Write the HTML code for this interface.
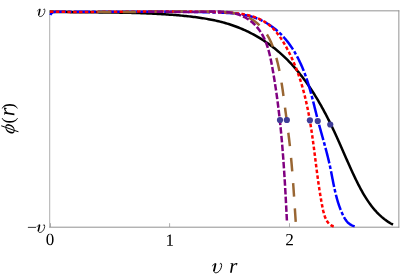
<!DOCTYPE html>
<html><head><meta charset="utf-8"><style>
html,body{margin:0;padding:0;background:#fff;}
body{width:400px;height:277px;overflow:hidden;position:relative;font-family:"Liberation Serif",serif;}
svg{position:absolute;left:0;top:0;display:block;}
text{font-family:"Liberation Serif",serif;fill:#000;}
</style></head><body>
<svg width="400" height="277" viewBox="0 0 400 277">
<rect x="0" y="0" width="400" height="277" fill="#fff"/>
<g fill="none" stroke="#8c8c8c" stroke-width="0.7">
<path d="M49.7,10.4V227.6" stroke-width="0.7"/>
<path d="M49.35,10.83H399.3 M49.35,227.2H399.3 M398.85,10.4V227.6" stroke-width="0.95"/>
<path d="M50.5,227V223.2 M169.6,227V223.2 M289.5,227V223.2"/>
</g>
<g fill="none" stroke-linecap="butt" stroke-linejoin="round">

<path d="M49.80,11.80 L51.30,11.83 L52.79,11.87 L54.29,11.90 L55.79,11.92 L57.28,11.95 L58.78,11.98 L60.27,12.00 L61.77,12.03 L63.27,12.05 L64.76,12.07 L66.26,12.09 L67.75,12.11 L69.25,12.12 L70.75,12.14 L72.24,12.16 L73.74,12.17 L75.24,12.19 L76.73,12.20 L78.23,12.21 L79.72,12.23 L81.22,12.24 L82.72,12.25 L84.21,12.26 L85.71,12.27 L87.20,12.29 L88.70,12.30 L90.20,12.31 L91.69,12.32 L93.19,12.33 L94.68,12.34 L96.18,12.35 L97.68,12.37 L99.17,12.38 L100.67,12.39 L102.16,12.41 L103.66,12.42 L105.16,12.43 L106.65,12.45 L108.15,12.47 L109.65,12.48 L111.14,12.50 L112.64,12.52 L114.14,12.54 L115.63,12.56 L117.13,12.58 L118.62,12.61 L120.12,12.63 L121.62,12.66 L123.11,12.69 L124.61,12.72 L126.11,12.75 L127.60,12.78 L129.10,12.81 L130.60,12.85 L132.10,12.89 L133.59,12.93 L135.09,12.97 L136.59,13.01 L138.08,13.06 L139.58,13.11 L141.08,13.16 L142.57,13.21 L144.07,13.27 L145.57,13.32 L147.07,13.38 L148.56,13.45 L150.06,13.51 L151.56,13.58 L153.06,13.65 L154.56,13.72 L156.05,13.80 L157.55,13.88 L159.05,13.96 L160.55,14.05 L162.05,14.14 L163.54,14.23 L165.04,14.33 L166.54,14.43 L168.04,14.53 L169.54,14.64 L171.04,14.74 L172.54,14.86 L174.04,14.98 L175.53,15.10 L177.03,15.22 L178.53,15.35 L180.03,15.48 L181.53,15.62 L183.03,15.76 L184.53,15.91 L186.03,16.06 L187.53,16.22 L189.03,16.38 L190.52,16.55 L192.02,16.72 L193.51,16.90 L195.01,17.09 L196.50,17.28 L197.99,17.49 L199.48,17.70 L200.97,17.92 L202.45,18.14 L203.94,18.38 L205.42,18.63 L206.90,18.88 L208.37,19.15 L209.85,19.42 L211.32,19.71 L212.78,20.00 L214.25,20.31 L215.71,20.63 L217.17,20.96 L218.62,21.30 L220.07,21.66 L221.52,22.02 L222.96,22.40 L224.40,22.80 L225.83,23.20 L227.26,23.63 L228.69,24.06 L230.11,24.51 L231.52,24.98 L232.93,25.46 L234.34,25.95 L235.74,26.46 L237.13,26.99 L238.52,27.53 L239.90,28.09 L241.28,28.66 L242.65,29.25 L244.01,29.85 L245.37,30.46 L246.72,31.09 L248.07,31.74 L249.41,32.39 L250.74,33.07 L252.06,33.75 L253.38,34.45 L254.69,35.17 L255.99,35.89 L257.28,36.64 L258.57,37.39 L259.85,38.16 L261.12,38.94 L262.38,39.73 L263.63,40.54 L264.88,41.36 L266.11,42.19 L267.34,43.03 L268.56,43.89 L269.77,44.76 L270.97,45.64 L272.16,46.53 L273.34,47.44 L274.51,48.35 L275.67,49.28 L276.82,50.22 L277.96,51.17 L279.09,52.14 L280.21,53.11 L281.32,54.09 L282.42,55.09 L283.50,56.10 L284.58,57.11 L285.65,58.14 L286.71,59.18 L287.76,60.22 L288.80,61.28 L289.83,62.35 L290.85,63.43 L291.86,64.51 L292.86,65.61 L293.85,66.71 L294.83,67.83 L295.80,68.95 L296.77,70.08 L297.72,71.22 L298.67,72.37 L299.61,73.52 L300.53,74.69 L301.45,75.86 L302.37,77.04 L303.27,78.23 L304.16,79.42 L305.05,80.63 L305.93,81.84 L306.80,83.05 L307.66,84.28 L308.52,85.51 L309.37,86.74 L310.21,87.99 L311.04,89.24 L311.86,90.49 L312.68,91.75 L313.49,93.02 L314.30,94.29 L315.09,95.57 L315.88,96.85 L316.66,98.14 L317.44,99.44 L318.21,100.73 L318.97,102.04 L319.73,103.35 L320.48,104.66 L321.22,105.97 L321.96,107.29 L322.69,108.62 L323.41,109.95 L324.13,111.28 L324.84,112.61 L325.55,113.95 L326.25,115.29 L326.95,116.64 L327.64,117.98 L328.32,119.33 L329.00,120.68 L329.68,122.04 L330.35,123.40 L331.01,124.75 L331.67,126.12 L332.33,127.48 L332.98,128.84 L333.62,130.21 L334.26,131.57 L334.90,132.94 L335.53,134.31 L336.16,135.68 L336.79,137.05 L337.41,138.42 L338.02,139.79 L338.64,141.16 L339.25,142.54 L339.86,143.91 L340.46,145.28 L341.07,146.65 L341.67,148.03 L342.27,149.40 L342.87,150.77 L343.47,152.15 L344.07,153.52 L344.67,154.89 L345.27,156.26 L345.87,157.63 L346.47,159.00 L347.08,160.37 L347.68,161.74 L348.29,163.11 L348.90,164.48 L349.51,165.85 L350.12,167.21 L350.74,168.58 L351.36,169.94 L351.98,171.30 L352.61,172.66 L353.25,174.02 L353.89,175.38 L354.53,176.74 L355.18,178.09 L355.83,179.44 L356.49,180.80 L357.16,182.14 L357.83,183.49 L358.52,184.83 L359.21,186.17 L359.91,187.51 L360.61,188.83 L361.33,190.16 L362.06,191.47 L362.80,192.78 L363.55,194.07 L364.31,195.36 L365.09,196.64 L365.88,197.91 L366.68,199.17 L367.50,200.41 L368.34,201.64 L369.19,202.86 L370.05,204.06 L370.93,205.25 L371.83,206.42 L372.75,207.58 L373.69,208.71 L374.64,209.83 L375.62,210.93 L376.61,212.02 L377.63,213.08 L378.66,214.12 L379.72,215.14 L380.81,216.13 L381.91,217.11 L383.04,218.06 L384.19,218.98 L385.37,219.88 L386.58,220.75 L387.80,221.60 L389.06,222.42 L390.34,223.21 L391.66,223.97 L393.00,224.70" stroke="#000" stroke-width="2.5"/>
<path d="M50.40,15.00 L50.66,14.46 L50.97,13.96 L51.31,13.50 L51.69,13.11 L52.13,12.72 L52.63,12.35 L53.15,12.09 L53.67,11.98 L54.19,11.93 L54.73,11.88 L55.27,11.84 L55.82,11.81 L56.39,11.78 L56.96,11.75 L57.54,11.73 L58.14,11.72 L58.75,11.71 L59.37,11.70 L60.00,11.70" stroke="#0000ff" stroke-width="2.5"/>
<path d="M60.00,11.70 L61.47,11.72 L62.94,11.73 L64.41,11.75 L65.88,11.76 L67.35,11.77 L68.82,11.78 L70.29,11.80 L71.76,11.81 L73.23,11.81 L74.69,11.82 L76.16,11.83 L77.62,11.84 L79.09,11.84 L80.55,11.85 L82.01,11.85 L83.47,11.86 L84.94,11.86 L86.40,11.86 L87.86,11.86 L89.32,11.87 L90.78,11.87 L92.24,11.87 L93.70,11.87 L95.16,11.87 L96.62,11.86 L98.07,11.86 L99.53,11.86 L100.99,11.86 L102.45,11.85 L103.90,11.85 L105.36,11.85 L106.81,11.84 L108.27,11.84 L109.73,11.84 L111.18,11.83 L112.64,11.83 L114.09,11.82 L115.54,11.82 L117.00,11.81 L118.45,11.80 L119.91,11.80 L121.36,11.79 L122.81,11.79 L124.27,11.78 L125.72,11.78 L127.18,11.77 L128.63,11.76 L130.08,11.76 L131.54,11.75 L132.99,11.75 L134.44,11.74 L135.90,11.74 L137.35,11.73 L138.80,11.73 L140.26,11.73 L141.71,11.72 L143.16,11.72 L144.62,11.71 L146.07,11.71 L147.53,11.71 L148.98,11.71 L150.43,11.71 L151.89,11.70 L153.34,11.70 L154.80,11.70 L156.25,11.70 L157.71,11.70 L159.17,11.71 L160.62,11.71 L162.08,11.71 L163.53,11.71 L164.99,11.72 L166.45,11.72 L167.91,11.73 L169.37,11.73 L170.82,11.74 L172.28,11.75 L173.74,11.76 L175.20,11.76 L176.66,11.77 L178.12,11.79 L179.58,11.80 L181.05,11.81 L182.51,11.82 L183.97,11.84 L185.44,11.85 L186.90,11.87 L188.36,11.89 L189.83,11.91 L191.30,11.93 L192.76,11.95 L194.23,11.97 L195.70,11.99 L197.16,12.02 L198.63,12.05 L200.10,12.07 L201.57,12.10 L203.05,12.13 L204.52,12.16 L205.99,12.19 L207.46,12.23 L208.94,12.26 L210.41,12.30 L211.89,12.34 L213.37,12.38 L214.85,12.42 L216.32,12.46 L217.80,12.51 L219.28,12.55 L220.76,12.61 L222.24,12.66 L223.72,12.73 L225.19,12.80 L226.67,12.88 L228.14,12.97 L229.61,13.07 L231.08,13.18 L232.54,13.30 L234.00,13.44 L235.45,13.59 L236.90,13.76 L238.35,13.94 L239.79,14.14 L241.22,14.36 L242.65,14.60 L244.07,14.86 L245.49,15.14 L246.89,15.44 L248.29,15.76 L249.68,16.11 L251.07,16.49 L252.44,16.89 L253.80,17.32 L255.16,17.77 L256.50,18.26 L257.83,18.78 L259.16,19.32 L260.47,19.90 L261.77,20.51 L263.05,21.15 L264.33,21.82 L265.59,22.51 L266.84,23.24 L268.07,23.99 L269.29,24.77 L270.49,25.58 L271.69,26.41 L272.86,27.27 L274.02,28.15 L275.16,29.06 L276.29,29.99 L277.40,30.94 L278.49,31.92 L279.56,32.92 L280.62,33.94 L281.66,34.98 L282.68,36.04 L283.68,37.13 L284.66,38.23 L285.62,39.35 L286.56,40.49 L287.48,41.65 L288.39,42.82 L289.27,44.01 L290.14,45.22 L290.99,46.44 L291.82,47.67 L292.64,48.91 L293.43,50.17 L294.21,51.44 L294.97,52.72 L295.72,54.01 L296.45,55.31 L297.16,56.62 L297.85,57.94 L298.53,59.26 L299.19,60.59 L299.84,61.93 L300.47,63.27 L301.08,64.62 L301.68,65.97 L302.27,67.32 L302.84,68.67 L303.39,70.03 L303.93,71.39 L304.45,72.75 L304.97,74.11 L305.47,75.47 L305.95,76.83 L306.43,78.20 L306.89,79.57 L307.34,80.93 L307.79,82.30 L308.22,83.67 L308.64,85.05 L309.06,86.42 L309.47,87.79 L309.87,89.17 L310.26,90.55 L310.64,91.93 L311.02,93.31 L311.40,94.69 L311.77,96.07 L312.13,97.46 L312.49,98.85 L312.85,100.23 L313.20,101.62 L313.56,103.01 L313.91,104.40 L314.26,105.80 L314.60,107.19 L314.95,108.59 L315.30,109.98 L315.65,111.38 L316.00,112.78 L316.35,114.18 L316.70,115.58 L317.06,116.98 L317.42,118.39 L317.78,119.79 L318.15,121.20 L318.53,122.61 L318.90,124.02 L319.28,125.43 L319.67,126.84 L320.06,128.25 L320.45,129.67 L320.84,131.08 L321.23,132.50 L321.63,133.92 L322.02,135.34 L322.42,136.76 L322.81,138.18 L323.21,139.60 L323.61,141.02 L324.00,142.45 L324.39,143.87 L324.78,145.30 L325.17,146.73 L325.55,148.16 L325.93,149.59 L326.31,151.02 L326.69,152.45 L327.05,153.89 L327.42,155.32 L327.78,156.76 L328.13,158.19 L328.48,159.63 L328.82,161.07 L329.15,162.51 L329.47,163.95 L329.79,165.39 L330.10,166.84 L330.40,168.28 L330.70,169.72 L330.99,171.17 L331.28,172.61 L331.56,174.06 L331.85,175.50 L332.13,176.94 L332.41,178.39 L332.69,179.83 L332.97,181.27 L333.26,182.71 L333.55,184.14 L333.84,185.57 L334.14,187.01 L334.45,188.43 L334.76,189.86 L335.09,191.28 L335.42,192.70 L335.76,194.12 L336.11,195.53 L336.48,196.94 L336.86,198.34 L337.25,199.74 L337.66,201.13 L338.09,202.52 L338.53,203.90 L338.99,205.28 L339.47,206.65 L339.97,208.02 L340.49,209.38 L341.03,210.73 L341.60,212.07 L342.19,213.41 L342.80,214.74 L343.44,216.06 L344.13,217.35 L344.85,218.60 L345.64,219.81 L346.48,220.95 L347.39,222.02 L348.37,223.01 L349.44,223.90 L350.60,224.69 L351.85,225.36 L353.22,225.91 L354.69,226.31" stroke="#0000ff" stroke-width="2.5" stroke-dasharray="16 2.2 3.6 2.2" stroke-dashoffset="10"/>
<path d="M50.00,11.70 L51.50,11.72 L53.00,11.74 L54.49,11.76 L55.99,11.78 L57.48,11.79 L58.98,11.81 L60.47,11.82 L61.96,11.84 L63.45,11.85 L64.93,11.86 L66.42,11.87 L67.91,11.88 L69.39,11.89 L70.87,11.89 L72.35,11.90 L73.84,11.90 L75.32,11.91 L76.79,11.91 L78.27,11.91 L79.75,11.92 L81.22,11.92 L82.70,11.92 L84.17,11.92 L85.65,11.91 L87.12,11.91 L88.59,11.91 L90.06,11.91 L91.53,11.90 L93.00,11.90 L94.47,11.89 L95.94,11.89 L97.40,11.88 L98.87,11.87 L100.34,11.87 L101.80,11.86 L103.27,11.85 L104.73,11.84 L106.20,11.84 L107.66,11.83 L109.12,11.82 L110.59,11.81 L112.05,11.80 L113.51,11.79 L114.97,11.78 L116.44,11.77 L117.90,11.76 L119.36,11.75 L120.82,11.74 L122.28,11.72 L123.74,11.71 L125.20,11.70 L126.67,11.69 L128.13,11.68 L129.59,11.67 L131.05,11.66 L132.51,11.65 L133.97,11.64 L135.43,11.63 L136.89,11.62 L138.36,11.61 L139.82,11.60 L141.28,11.59 L142.74,11.58 L144.21,11.57 L145.67,11.57 L147.13,11.56 L148.60,11.55 L150.06,11.54 L151.53,11.54 L152.99,11.53 L154.46,11.52 L155.92,11.52 L157.39,11.51 L158.86,11.51 L160.33,11.51 L161.79,11.50 L163.26,11.50 L164.73,11.50 L166.20,11.50 L167.68,11.50 L169.15,11.50 L170.62,11.50 L172.10,11.51 L173.57,11.51 L175.05,11.51 L176.52,11.52 L178.00,11.52 L179.48,11.53 L180.96,11.54 L182.44,11.55 L183.92,11.56 L185.41,11.57 L186.89,11.58 L188.38,11.59 L189.86,11.61 L191.35,11.62 L192.84,11.64 L194.33,11.66 L195.82,11.68 L197.32,11.70 L198.81,11.72 L200.31,11.74 L201.80,11.76 L203.30,11.79 L204.80,11.82 L206.30,11.85 L207.81,11.87 L209.31,11.91 L210.82,11.94 L212.33,11.97 L213.84,12.01 L215.35,12.05 L216.86,12.08 L218.38,12.13 L219.89,12.17 L221.40,12.22 L222.92,12.28 L224.43,12.34 L225.94,12.41 L227.45,12.49 L228.95,12.58 L230.45,12.69 L231.95,12.80 L233.44,12.93 L234.92,13.07 L236.40,13.23 L237.87,13.40 L239.33,13.59 L240.79,13.80 L242.23,14.03 L243.67,14.28 L245.10,14.55 L246.51,14.84 L247.91,15.16 L249.31,15.50 L250.69,15.87 L252.05,16.27 L253.41,16.69 L254.74,17.14 L256.07,17.63 L257.37,18.14 L258.66,18.69 L259.94,19.27 L261.19,19.88 L262.43,20.53 L263.65,21.21 L264.85,21.94 L266.03,22.70 L267.19,23.50 L268.33,24.34 L269.44,25.22 L270.53,26.15 L271.60,27.12 L272.65,28.13 L273.68,29.17 L274.68,30.25 L275.66,31.37 L276.62,32.52 L277.57,33.69 L278.49,34.90 L279.39,36.12 L280.27,37.37 L281.13,38.64 L281.98,39.93 L282.80,41.23 L283.61,42.55 L284.40,43.87 L285.17,45.21 L285.93,46.55 L286.67,47.89 L287.39,49.24 L288.10,50.58 L288.79,51.93 L289.47,53.27 L290.13,54.61 L290.78,55.95 L291.41,57.29 L292.04,58.63 L292.65,59.97 L293.24,61.31 L293.82,62.66 L294.40,64.00 L294.96,65.36 L295.51,66.71 L296.04,68.07 L296.57,69.43 L297.09,70.80 L297.60,72.17 L298.09,73.55 L298.58,74.93 L299.06,76.31 L299.52,77.70 L299.98,79.09 L300.43,80.48 L300.87,81.88 L301.30,83.28 L301.72,84.69 L302.14,86.10 L302.54,87.51 L302.94,88.93 L303.32,90.34 L303.70,91.77 L304.08,93.19 L304.44,94.62 L304.80,96.04 L305.15,97.48 L305.49,98.91 L305.83,100.35 L306.15,101.79 L306.48,103.23 L306.79,104.67 L307.10,106.11 L307.40,107.56 L307.70,109.01 L307.99,110.46 L308.27,111.91 L308.55,113.37 L308.83,114.82 L309.09,116.28 L309.36,117.73 L309.61,119.19 L309.87,120.65 L310.12,122.11 L310.36,123.57 L310.60,125.04 L310.83,126.50 L311.06,127.96 L311.29,129.42 L311.52,130.89 L311.74,132.35 L311.95,133.82 L312.17,135.28 L312.38,136.75 L312.58,138.21 L312.79,139.67 L312.99,141.14 L313.19,142.60 L313.39,144.07 L313.58,145.53 L313.77,146.99 L313.96,148.45 L314.15,149.91 L314.34,151.37 L314.53,152.83 L314.71,154.28 L314.90,155.74 L315.08,157.19 L315.26,158.65 L315.45,160.10 L315.63,161.55 L315.81,163.00 L315.99,164.44 L316.17,165.89 L316.36,167.33 L316.54,168.77 L316.72,170.21 L316.91,171.65 L317.09,173.09 L317.28,174.53 L317.47,175.98 L317.66,177.42 L317.86,178.87 L318.06,180.31 L318.26,181.77 L318.47,183.22 L318.67,184.68 L318.89,186.14 L319.11,187.61 L319.33,189.08 L319.56,190.56 L319.79,192.04 L320.03,193.53 L320.27,195.03 L320.53,196.54 L320.78,198.05 L321.05,199.57 L321.32,201.10 L321.60,202.64 L321.89,204.19 L322.18,205.75 L322.49,207.32 L322.81,208.89 L323.14,210.45 L323.51,212.00 L323.90,213.52 L324.33,215.00 L324.81,216.44 L325.33,217.83 L325.91,219.15 L326.55,220.39 L327.25,221.55 L328.03,222.62 L328.89,223.59 L329.83,224.45 L330.86,225.18 L331.98,225.78 L333.21,226.24 L334.54,226.56 L335.99,226.71" stroke="#ff0000" stroke-width="2.5" stroke-dasharray="3.5 2.3"/>
<path d="M92.60,11.70 L93.84,11.73 L95.09,11.75 L96.33,11.78 L97.57,11.80 L98.82,11.82 L100.06,11.84 L101.31,11.86 L102.55,11.87 L103.80,11.89 L105.04,11.90 L106.29,11.91 L107.54,11.92 L108.78,11.93 L110.03,11.94 L111.28,11.95 L112.52,11.96 L113.77,11.96 L115.02,11.97 L116.27,11.97 L117.52,11.97 L118.77,11.97 L120.02,11.97 L121.27,11.97 L122.52,11.97 L123.77,11.97 L125.02,11.97 L126.27,11.96 L127.52,11.96 L128.77,11.95 L130.02,11.95 L131.27,11.94 L132.52,11.93 L133.78,11.92 L135.03,11.92 L136.28,11.91 L137.54,11.90 L138.79,11.89 L140.04,11.88 L141.30,11.87 L142.55,11.86 L143.81,11.85 L145.06,11.83 L146.32,11.82 L147.57,11.81 L148.83,11.80 L150.08,11.79 L151.34,11.78 L152.59,11.76 L153.85,11.75 L155.11,11.74 L156.36,11.73 L157.62,11.72 L158.88,11.70 L160.14,11.69 L161.39,11.68 L162.65,11.67 L163.91,11.66 L165.17,11.65 L166.43,11.64 L167.69,11.63 L168.95,11.62 L170.21,11.61 L171.47,11.60 L172.73,11.60 L173.99,11.59 L175.25,11.58 L176.51,11.58 L177.77,11.57 L179.03,11.57 L180.29,11.56 L181.55,11.56 L182.81,11.56 L184.08,11.55 L185.34,11.55 L186.60,11.55 L187.86,11.56 L189.12,11.56 L190.39,11.56 L191.65,11.56 L192.91,11.57 L194.18,11.58 L195.44,11.58 L196.70,11.59 L197.97,11.60 L199.23,11.61 L200.50,11.62 L201.76,11.64 L203.03,11.65 L204.29,11.67 L205.56,11.69 L206.82,11.71 L208.09,11.73 L209.35,11.75 L210.62,11.77 L211.88,11.80 L213.15,11.82 L214.42,11.85 L215.68,11.88 L216.95,11.92 L218.21,11.95 L219.48,11.99 L220.74,12.04 L222.00,12.09 L223.26,12.15 L224.52,12.22 L225.77,12.30 L227.02,12.39 L228.26,12.50 L229.50,12.62 L230.73,12.75 L231.95,12.90 L233.17,13.07 L234.38,13.26 L235.59,13.47 L236.78,13.70 L237.97,13.95 L239.14,14.23 L240.31,14.53 L241.47,14.86 L242.61,15.21 L243.74,15.59 L244.86,16.01 L245.97,16.45 L247.07,16.93 L248.15,17.43 L249.21,17.97 L250.27,18.53 L251.30,19.13 L252.32,19.75 L253.33,20.40 L254.31,21.08 L255.28,21.78 L256.23,22.51 L257.17,23.26 L258.08,24.05 L258.98,24.85 L259.85,25.68 L260.70,26.54 L261.53,27.42 L262.35,28.32 L263.13,29.24 L263.90,30.19 L264.64,31.16 L265.36,32.15 L266.05,33.16 L266.72,34.19 L267.37,35.24 L268.00,36.31 L268.61,37.39 L269.19,38.49 L269.76,39.61 L270.31,40.74 L270.83,41.88 L271.34,43.04 L271.84,44.21 L272.31,45.39 L272.77,46.58 L273.21,47.78 L273.64,48.99 L274.06,50.20 L274.46,51.42 L274.85,52.65 L275.22,53.88 L275.59,55.12 L275.94,56.36 L276.28,57.60 L276.62,58.84 L276.94,60.09 L277.25,61.33 L277.56,62.57 L277.86,63.82 L278.15,65.06 L278.43,66.30 L278.70,67.54 L278.97,68.79 L279.23,70.03 L279.48,71.27 L279.73,72.51 L279.97,73.75 L280.21,75.00 L280.44,76.24 L280.66,77.48 L280.88,78.72 L281.09,79.96 L281.30,81.20 L281.50,82.45 L281.70,83.69 L281.89,84.93 L282.08,86.17 L282.27,87.41 L282.45,88.65 L282.64,89.89 L282.81,91.13 L282.99,92.37 L283.16,93.61 L283.33,94.85 L283.50,96.09 L283.67,97.33 L283.83,98.57 L284.00,99.81 L284.16,101.06 L284.32,102.30 L284.49,103.54 L284.65,104.78 L284.81,106.02 L284.97,107.26 L285.14,108.50 L285.30,109.74 L285.46,110.98 L285.63,112.22 L285.79,113.46 L285.96,114.70 L286.12,115.94 L286.29,117.18 L286.45,118.42 L286.62,119.66 L286.78,120.90 L286.95,122.14 L287.11,123.38 L287.28,124.62 L287.44,125.86 L287.60,127.10 L287.76,128.34 L287.92,129.58 L288.08,130.82 L288.23,132.06 L288.39,133.30 L288.54,134.54 L288.69,135.78 L288.84,137.02 L288.99,138.26 L289.14,139.50 L289.28,140.75 L289.42,141.99 L289.56,143.23 L289.70,144.47 L289.84,145.71 L289.97,146.95 L290.10,148.19 L290.23,149.43 L290.36,150.68 L290.48,151.92 L290.61,153.16 L290.73,154.40 L290.85,155.64 L290.97,156.89 L291.09,158.13 L291.20,159.37 L291.31,160.61 L291.43,161.86 L291.54,163.10 L291.65,164.34 L291.75,165.59 L291.86,166.83 L291.96,168.07 L292.07,169.32 L292.17,170.56 L292.27,171.81 L292.37,173.05 L292.47,174.29 L292.57,175.54 L292.66,176.78 L292.76,178.03 L292.85,179.27 L292.94,180.52 L293.04,181.76 L293.13,183.01 L293.22,184.26 L293.31,185.50 L293.40,186.75 L293.48,187.99 L293.57,189.24 L293.66,190.49 L293.74,191.74 L293.83,192.98 L293.91,194.23 L294.00,195.48 L294.08,196.73 L294.16,197.98 L294.25,199.22 L294.33,200.47 L294.41,201.72 L294.49,202.97 L294.58,204.22 L294.66,205.47 L294.74,206.72 L294.82,207.97 L294.90,209.22 L294.98,210.47 L295.06,211.73 L295.14,212.98 L295.23,214.23 L295.31,215.48 L295.39,216.73 L295.47,217.99 L295.55,219.24 L295.63,220.49 L295.72,221.75 L295.80,223.00" stroke="#996633" stroke-width="2.5" stroke-dasharray="13.5 11.8" stroke-dashoffset="-4.9"/>
<path d="M148.00,11.70 L149.03,11.70 L150.06,11.69 L151.10,11.69 L152.13,11.69 L153.16,11.70 L154.18,11.70 L155.21,11.71 L156.24,11.71 L157.27,11.72 L158.30,11.73 L159.32,11.74 L160.35,11.75 L161.38,11.76 L162.40,11.78 L163.43,11.79 L164.46,11.80 L165.48,11.82 L166.51,11.83 L167.54,11.85 L168.57,11.86 L169.60,11.88 L170.63,11.89 L171.66,11.91 L172.69,11.92 L173.72,11.94 L174.75,11.95 L175.78,11.96 L176.82,11.97 L177.85,11.99 L178.89,12.00 L179.93,12.01 L180.97,12.02 L182.01,12.02 L183.05,12.03 L184.09,12.03 L185.14,12.04 L186.18,12.04 L187.23,12.04 L188.28,12.04 L189.33,12.04 L190.39,12.03 L191.44,12.02 L192.50,12.01 L193.56,12.00 L194.62,11.99 L195.69,11.97 L196.75,11.95 L197.82,11.93 L198.90,11.91 L199.97,11.88 L201.05,11.85 L202.13,11.82 L203.21,11.78 L204.29,11.75 L205.38,11.71 L206.46,11.68 L207.55,11.65 L208.63,11.61 L209.72,11.59 L210.81,11.56 L211.89,11.54 L212.98,11.52 L214.06,11.51 L215.14,11.51 L216.22,11.51 L217.30,11.52 L218.37,11.54 L219.44,11.56 L220.51,11.60 L221.57,11.64 L222.63,11.70 L223.69,11.77 L224.74,11.85 L225.78,11.94 L226.83,12.05 L227.86,12.17 L228.89,12.31 L229.91,12.46 L230.93,12.63 L231.94,12.82 L232.94,13.02 L233.93,13.24 L234.92,13.49 L235.89,13.75 L236.86,14.03 L237.82,14.33 L238.77,14.65 L239.71,15.00 L240.64,15.36 L241.56,15.74 L242.47,16.14 L243.37,16.57 L244.26,17.01 L245.14,17.47 L246.01,17.96 L246.86,18.46 L247.70,18.99 L248.53,19.53 L249.35,20.10 L250.15,20.68 L250.94,21.29 L251.72,21.91 L252.48,22.56 L253.23,23.22 L253.96,23.91 L254.68,24.61 L255.38,25.33 L256.07,26.08 L256.74,26.83 L257.40,27.61 L258.04,28.40 L258.66,29.20 L259.27,30.02 L259.86,30.85 L260.43,31.70 L260.99,32.55 L261.53,33.42 L262.04,34.29 L262.55,35.18 L263.03,36.08 L263.50,36.98 L263.95,37.90 L264.39,38.82 L264.81,39.76 L265.22,40.70 L265.61,41.64 L265.99,42.60 L266.36,43.56 L266.71,44.54 L267.06,45.51 L267.39,46.50 L267.71,47.49 L268.01,48.48 L268.31,49.48 L268.60,50.49 L268.88,51.50 L269.15,52.52 L269.41,53.54 L269.66,54.56 L269.90,55.59 L270.14,56.62 L270.37,57.65 L270.60,58.69 L270.82,59.73 L271.03,60.77 L271.24,61.81 L271.44,62.85 L271.64,63.90 L271.84,64.94 L272.03,65.99 L272.22,67.04 L272.41,68.08 L272.60,69.13 L272.78,70.17 L272.97,71.22 L273.15,72.26 L273.33,73.31 L273.51,74.35 L273.68,75.40 L273.86,76.44 L274.03,77.48 L274.20,78.53 L274.37,79.57 L274.54,80.61 L274.70,81.66 L274.87,82.70 L275.03,83.74 L275.19,84.78 L275.35,85.82 L275.51,86.86 L275.67,87.90 L275.82,88.94 L275.98,89.98 L276.13,91.02 L276.28,92.06 L276.43,93.10 L276.57,94.14 L276.72,95.18 L276.86,96.22 L277.01,97.26 L277.15,98.29 L277.29,99.33 L277.43,100.37 L277.56,101.41 L277.70,102.44 L277.83,103.48 L277.97,104.52 L278.10,105.55 L278.23,106.59 L278.35,107.63 L278.48,108.66 L278.61,109.70 L278.73,110.74 L278.86,111.77 L278.98,112.81 L279.10,113.84 L279.22,114.88 L279.34,115.91 L279.45,116.95 L279.57,117.98 L279.68,119.02 L279.80,120.05 L279.91,121.09 L280.02,122.12 L280.13,123.16 L280.24,124.19 L280.35,125.22 L280.45,126.26 L280.56,127.29 L280.66,128.33 L280.76,129.36 L280.87,130.39 L280.97,131.43 L281.07,132.46 L281.16,133.49 L281.26,134.53 L281.36,135.56 L281.45,136.59 L281.55,137.63 L281.64,138.66 L281.73,139.69 L281.83,140.73 L281.92,141.76 L282.01,142.79 L282.09,143.83 L282.18,144.86 L282.27,145.89 L282.36,146.93 L282.44,147.96 L282.52,148.99 L282.61,150.03 L282.69,151.06 L282.77,152.09 L282.85,153.13 L282.93,154.16 L283.01,155.19 L283.09,156.23 L283.17,157.26 L283.24,158.29 L283.32,159.33 L283.40,160.36 L283.47,161.40 L283.54,162.43 L283.62,163.46 L283.69,164.50 L283.76,165.53 L283.83,166.57 L283.90,167.60 L283.97,168.64 L284.04,169.67 L284.11,170.70 L284.18,171.74 L284.25,172.77 L284.31,173.81 L284.38,174.84 L284.44,175.88 L284.51,176.92 L284.57,177.95 L284.64,178.99 L284.70,180.02 L284.76,181.06 L284.83,182.10 L284.89,183.13 L284.95,184.17 L285.01,185.21 L285.07,186.24 L285.13,187.28 L285.19,188.32 L285.25,189.36 L285.31,190.39 L285.37,191.43 L285.43,192.47 L285.49,193.51 L285.54,194.55 L285.60,195.59 L285.66,196.62 L285.71,197.66 L285.77,198.70 L285.83,199.74 L285.88,200.78 L285.94,201.82 L285.99,202.86 L286.05,203.91 L286.10,204.95 L286.16,205.99 L286.21,207.03 L286.26,208.07 L286.32,209.12 L286.37,210.16 L286.43,211.20 L286.48,212.24 L286.53,213.29 L286.58,214.33 L286.64,215.38 L286.69,216.42 L286.74,217.47 L286.80,218.51 L286.85,219.56 L286.90,220.60" stroke="#800080" stroke-width="2.5" stroke-dasharray="6.5 2.2"/>

</g>
<circle cx="280.0" cy="120.0" r="3.1" fill="#3f3d99"/>
<circle cx="286.85" cy="120.0" r="3.1" fill="#3f3d99"/>
<circle cx="309.9" cy="120.3" r="3.1" fill="#3f3d99"/>
<circle cx="317.75" cy="121.1" r="3.1" fill="#3f3d99"/>
<circle cx="330.25" cy="124.5" r="3.1" fill="#3f3d99"/>
<g fill="#000" stroke="#fff" stroke-width="0"><g transform="translate(37.4,16.5) scale(0.78)" fill="none" stroke="#000" stroke-linecap="round" stroke-linejoin="round"><path d="M3.2,-8.9 L1.75,-2.4" stroke-width="1.9"/><path d="M1.5,-2.6 C0.9,0.7 4.5,0.9 6.9,-1.4 C8.8,-3.3 10.3,-7.1 9.3,-9.3 C9.0,-10 8.3,-10 8.1,-9.2" stroke-width="1.0"/><path d="M0.1,-7.1 C0.4,-8.3 1.5,-9.3 2.9,-9.3" stroke-width="0.8"/></g>
<path transform="translate(27.0,232.6) scale(0.00859,-0.00781)" d="M1055 731V629H102V731Z" />
<g transform="translate(37.0,232.4) scale(0.8)" fill="none" stroke="#000" stroke-linecap="round" stroke-linejoin="round"><path d="M3.2,-8.9 L1.75,-2.4" stroke-width="1.9"/><path d="M1.5,-2.6 C0.9,0.7 4.5,0.9 6.9,-1.4 C8.8,-3.3 10.3,-7.1 9.3,-9.3 C9.0,-10 8.3,-10 8.1,-9.2" stroke-width="1.0"/><path d="M0.1,-7.1 C0.4,-8.3 1.5,-9.3 2.9,-9.3" stroke-width="0.8"/></g>
<path transform="translate(45.75,245.0) scale(0.00830,-0.00830)" d="M946 676Q946 -20 506 -20Q294 -20 186 158Q78 336 78 676Q78 1009 186 1185.5Q294 1362 514 1362Q726 1362 836 1187.5Q946 1013 946 676ZM762 676Q762 998 701 1140Q640 1282 506 1282Q376 1282 319 1148Q262 1014 262 676Q262 336 320 197.5Q378 59 506 59Q638 59 700 204.5Q762 350 762 676Z" />
<path transform="translate(165.55,245.7) scale(0.00830,-0.00830)" d="M627 80 901 53V0H180V53L455 80V1174L184 1077V1130L575 1352H627Z" />
<path transform="translate(285.35,245.2) scale(0.00830,-0.00830)" d="M911 0H90V147L276 316Q455 473 539 570Q623 667 659.5 770Q696 873 696 1006Q696 1136 637 1204Q578 1272 444 1272Q391 1272 335 1257.5Q279 1243 236 1219L201 1055H135V1313Q317 1356 444 1356Q664 1356 774.5 1264.5Q885 1173 885 1006Q885 894 841.5 794.5Q798 695 708 596.5Q618 498 410 321Q321 245 221 154H911Z" />
<g transform="translate(212.4,272.7) scale(0.96)" fill="none" stroke="#000" stroke-linecap="round" stroke-linejoin="round"><path d="M3.2,-8.9 L1.75,-2.4" stroke-width="1.9"/><path d="M1.5,-2.6 C0.9,0.7 4.5,0.9 6.9,-1.4 C8.8,-3.3 10.3,-7.1 9.3,-9.3 C9.0,-10 8.3,-10 8.1,-9.2" stroke-width="1.0"/><path d="M0.1,-7.1 C0.4,-8.3 1.5,-9.3 2.9,-9.3" stroke-width="0.8"/></g>
<path transform="translate(229.2,272.8) scale(0.01025,-0.01025)" d="M724 965Q774 965 803 957L759 711H716L678 838Q598 838 512.5 777Q427 716 356 616L249 0H83L236 870L118 895L126 940H403L372 728Q447 841 539.5 903Q632 965 724 965Z" />
<g transform="translate(14.4,135) rotate(-90)">
<path transform="translate(0.5,0) skewX(-10) scale(0.00928,-0.00928)" d="M314 -436 388 -19Q236 -15 141.5 93Q47 201 47 372Q47 531 113 666Q179 801 297.5 880Q416 959 561 964L643 1421H753L671 964Q828 955 920 848.5Q1012 742 1012 573Q1012 414 945.5 278Q879 142 761 63.5Q643 -15 498 -19L424 -436ZM223 340Q223 215 269.5 142.5Q316 70 402 63L548 886Q462 876 386.5 802Q311 728 267 605.5Q223 483 223 340ZM837 606Q837 738 789 809Q741 880 657 886L512 63Q599 76 674.5 150.5Q750 225 793.5 344Q837 463 837 606Z" />
<path transform="translate(11.5,-0.3) scale(0.00879,-0.00879)" d="M283 494Q283 234 318 79.5Q353 -75 428 -181Q503 -287 616 -352V-436Q418 -331 306.5 -206.5Q195 -82 142.5 86.5Q90 255 90 494Q90 732 142 899.5Q194 1067 305 1191Q416 1315 616 1421V1337Q494 1267 422 1157.5Q350 1048 316.5 902Q283 756 283 494Z" />
<path transform="translate(18.8,0) scale(0.01074,-0.01074)" d="M724 965Q774 965 803 957L759 711H716L678 838Q598 838 512.5 777Q427 716 356 616L249 0H83L236 870L118 895L126 940H403L372 728Q447 841 539.5 903Q632 965 724 965Z" />
<path transform="translate(25.8,-0.3) scale(0.00879,-0.00879)" d="M66 -436V-352Q179 -287 254 -180.5Q329 -74 364 80.5Q399 235 399 494Q399 756 365.5 902Q332 1048 260 1157.5Q188 1267 66 1337V1421Q266 1314 377 1190.5Q488 1067 540 899.5Q592 732 592 494Q592 256 540 87.5Q488 -81 377 -205Q266 -329 66 -436Z" />
</g></g>
</svg>
</body></html>
